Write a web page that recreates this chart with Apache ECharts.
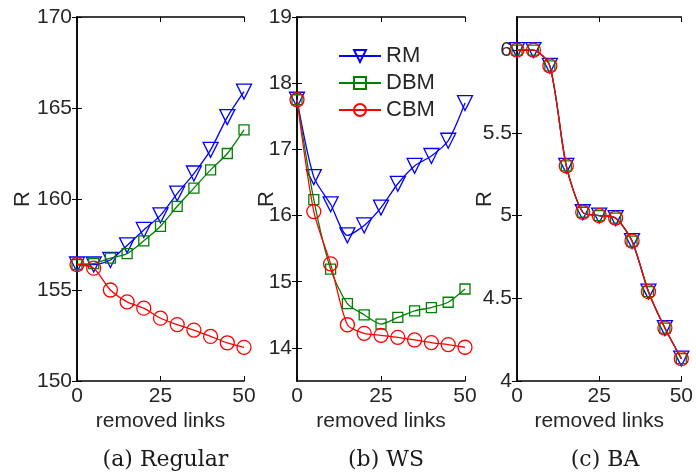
<!DOCTYPE html>
<html><head><meta charset="utf-8">
<script src="https://cdn.jsdelivr.net/npm/echarts@6/dist/echarts.min.js"></script>
<style>html,body{margin:0;padding:0;background:#fff}#c{width:696px;height:473px}</style>
</head><body><div id="c"></div>
<script>
var xs = [0, 5, 10, 15, 20, 25, 30, 35, 40, 45, 50];
var xTicks = [0, 25, 50];
var panelTitles = ['(a) Regular', '(b) WS', '(c) BA'];
var seriesNames = ['RM', 'DBM', 'CBM'];

var regRM  = [156.4, 156.4, 156.65, 157.45, 158.3, 159.1, 160.3, 161.4, 162.7, 164.5, 165.9];
var regDBM = [156.4, 156.45, 156.75, 157.0, 157.7, 158.5, 159.6, 160.6, 161.6, 162.5, 163.8];
var regCBM = [156.4, 156.2, 155.0, 154.35, 154.0, 153.45, 153.1, 152.8, 152.45, 152.1, 151.85];

var wsRM  = [17.75, 16.58, 16.17, 15.7, 15.85, 16.12, 16.48, 16.75, 16.9, 17.13, 17.7];
var wsDBM = [17.75, 16.24, 15.19, 14.67, 14.5, 14.36, 14.46, 14.56, 14.61, 14.69, 14.89];
var wsCBM = [17.75, 16.06, 15.27, 14.35, 14.22, 14.19, 14.16, 14.12, 14.08, 14.05, 14.01];

var baRM  = [6.0, 6.0, 5.905, 5.3, 5.02, 5.0, 4.985, 4.846, 4.54, 4.32, 4.135];
var baDBM = [6.0, 6.0, 5.905, 5.3, 5.02, 5.0, 4.985, 4.846, 4.54, 4.32, 4.135];
var baCBM = [6.0, 6.0, 5.905, 5.3, 5.02, 5.0, 4.985, 4.846, 4.54, 4.32, 4.135];

var regTicks = [150, 155, 160, 165, 170];
var wsTicks = [14, 15, 16, 17, 18, 19];
var baTicks = [4, 4.5, 5, 5.5, 6];

var panels = [
  {left: 77, width: 167, min: 150, max: 170, ticks: regTicks, data: [regRM, regDBM, regCBM], nameGap: 43},
  {left: 297, width: 168, min: 13.5, max: 19, ticks: wsTicks, data: [wsRM, wsDBM, wsCBM], nameGap: 19},
  {left: 517, width: 166, min: 4, max: 6.2, ticks: baTicks, data: [baRM, baDBM, baCBM], nameGap: 21}
];

var colors = ['#0000ff', '#008000', '#ff0000'];
var symbols = ['triangle', 'rect', 'circle'];
var symSizes = [15, 10, 14];
var symRot = [180, 0, 0];
var font = 'Liberation Sans, Arial, sans-serif';
var txt = '#262626';

var grids = [], xAxes = [], yAxes = [], series = [], titles = [];
panels.forEach(function (p, i) {
  grids.push({left: p.left, width: p.width, top: 17, bottom: 92});
  var axLine = {show: true, lineStyle: {color: '#000', width: 1.5}};
  xAxes.push({
    gridIndex: i, type: 'value', min: 0, max: 50,
    name: 'removed links', nameLocation: 'middle', nameGap: 30, nameMoveOverlap: false,
    nameTextStyle: {fontFamily: font, fontSize: 21, color: txt},
    axisLine: axLine,
    axisTick: {show: true, inside: true, length: 5, customValues: xTicks, lineStyle: {color: '#000'}},
    axisLabel: {customValues: xTicks, fontFamily: font, fontSize: 21, color: txt, margin: 5},
    splitLine: {show: false}
  });
  xAxes.push({
    gridIndex: i, type: 'value', min: 0, max: 50, position: 'top',
    axisLine: axLine,
    axisTick: {show: true, inside: true, length: 5, customValues: xTicks, lineStyle: {color: '#000'}},
    axisLabel: {show: false}, splitLine: {show: false}
  });
  yAxes.push({
    gridIndex: i, type: 'value', min: p.min, max: p.max,
    name: 'R', nameLocation: 'middle', nameGap: p.nameGap, nameRotate: 90, nameMoveOverlap: false,
    nameTextStyle: {fontFamily: font, fontSize: 22, color: txt},
    axisLine: axLine,
    axisTick: {show: true, inside: true, length: 5, customValues: p.ticks, lineStyle: {color: '#000'}},
    axisLabel: {customValues: p.ticks, fontFamily: font, fontSize: 21, color: txt, margin: 5},
    splitLine: {show: false}
  });
  yAxes.push({
    gridIndex: i, type: 'value', min: p.min, max: p.max, position: 'right',
    axisLine: axLine,
    axisTick: {show: true, inside: true, length: 5, customValues: p.ticks, lineStyle: {color: '#000'}},
    axisLabel: {show: false}, splitLine: {show: false}
  });
  p.data.forEach(function (vals, k) {
    series.push({
      name: seriesNames[k], type: 'line',
      xAxisIndex: i * 2, yAxisIndex: i * 2,
      data: xs.map(function (x, j) { return [x, vals[j]]; }),
      smooth: 0.25,
      symbol: symbols[k], symbolSize: symSizes[k], symbolRotate: symRot[k],
      showSymbol: true,
      lineStyle: {color: colors[k], width: 1.3},
      itemStyle: {color: 'rgba(255,255,255,0)', borderColor: colors[k], borderWidth: 1.3},
      emphasis: {disabled: true},
      animation: false, z: 2 + k
    });
  });
  titles.push({
    text: panelTitles[i], left: p.left + p.width / 2, top: 444, textAlign: 'center',
    textStyle: {fontFamily: 'DejaVu Serif, serif', fontWeight: 'normal', fontSize: 22, color: '#1a1a1a'}
  });
});

var chart = echarts.init(document.getElementById('c'), null, {renderer: 'canvas'});
chart.setOption({
  backgroundColor: '#fff',
  animation: false,
  title: titles,
  grid: grids,
  xAxis: xAxes,
  yAxis: yAxes,
  legend: {
    data: seriesNames, orient: 'vertical', left: 333, top: 40,
    itemWidth: 42, itemHeight: 15, itemGap: 5,
    textStyle: {fontFamily: font, fontSize: 22, color: txt},
    backgroundColor: 'rgba(255,255,255,0)'
  },
  series: series
});
</script></body></html>
